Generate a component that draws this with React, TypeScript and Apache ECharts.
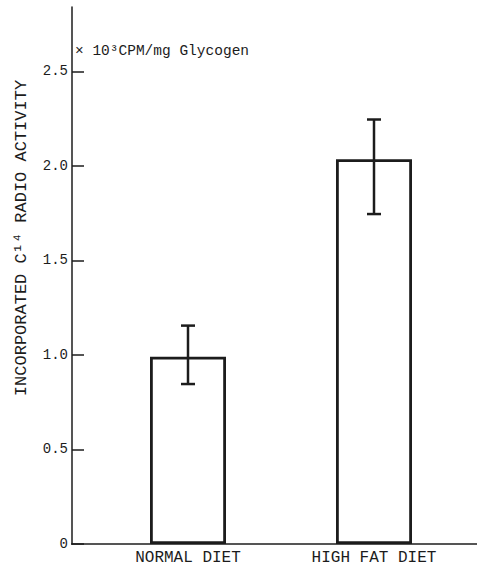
import React, { useEffect, useRef } from "react";
import * as echarts from "echarts";

const categories = ["NORMAL DIET", "HIGH FAT DIET"];
const means = [0.99, 2.035];
const errLow = [0.846, 1.745];
const errHigh = [1.155, 2.245];
const yTicks = [0, 0.5, 1.0, 1.5, 2.0, 2.5];
const yTitle = "INCORPORATED C¹⁴ RADIO ACTIVITY";
const unitText = "× 10³CPM/mg Glycogen";

const FONT = "Liberation Mono";
const INK = "#1c1c1c";

export default function App() {
  const ref = useRef<HTMLDivElement>(null);
  useEffect(() => {
    if (!ref.current) return;
    const chart = echarts.init(ref.current, undefined, { renderer: "svg" });
    const errData = categories.map((_, i) => [i, errLow[i], errHigh[i]]);
    chart.setOption({
      animation: false,
      backgroundColor: "#ffffff",
      grid: { left: 95, right: 10, top: 7, bottom: 23, containLabel: false },
      xAxis: {
        type: "category",
        data: categories,
        axisLine: { show: false },
        axisTick: { show: false },
        axisLabel: {
          color: INK,
          fontFamily: FONT,
          fontSize: 16,
          margin: 6,
        },
      },
      yAxis: {
        type: "value",
        min: 0,
        max: 2.84,
        offset: 23,
        splitLine: { show: false },
        axisLine: { show: true, lineStyle: { color: INK, width: 1.5 } },
        axisTick: {
          show: true,
          inside: true,
          length: 12,
          lineStyle: { color: INK, width: 1.5 },
          customValues: yTicks,
        },
        axisLabel: {
          color: INK,
          fontFamily: FONT,
          fontSize: 14,
          margin: 4,
          customValues: yTicks,
          formatter: (v: number) => (v === 0 ? "0" : v.toFixed(1)),
        },
      },
      graphic: [
        {
          type: "line",
          shape: { x1: 71, y1: 544, x2: 477, y2: 544 },
          style: { stroke: INK, lineWidth: 1.5 },
          z: 10,
        },
        {
          type: "text",
          x: 75,
          y: 51,
          style: {
            text: unitText,
            fontFamily: FONT,
            fontSize: 14.5,
            fill: INK,
            align: "left",
            verticalAlign: "middle",
          },
        },
        {
          type: "text",
          x: 21,
          y: 238,
          rotation: Math.PI / 2,
          style: {
            text: yTitle,
            fontFamily: FONT,
            fontSize: 17,
            fill: INK,
            align: "center",
            verticalAlign: "middle",
          },
        },
      ],
      series: [
        {
          type: "bar",
          data: means,
          barWidth: 76,
          itemStyle: { color: "#ffffff", borderColor: INK, borderWidth: 2.8 },
          z: 2,
        },
        {
          type: "custom",
          data: errData,
          z: 5,
          renderItem: (params: any, api: any) => {
            const x = api.value(0);
            const lo = api.coord([x, api.value(1)]);
            const hi = api.coord([x, api.value(2)]);
            const hw = 7;
            const style = { stroke: INK, lineWidth: 2.5 };
            return {
              type: "group",
              children: [
                { type: "line", shape: { x1: lo[0], y1: lo[1], x2: hi[0], y2: hi[1] }, style },
                { type: "line", shape: { x1: hi[0] - hw, y1: hi[1], x2: hi[0] + hw, y2: hi[1] }, style },
                { type: "line", shape: { x1: lo[0] - hw, y1: lo[1], x2: lo[0] + hw, y2: lo[1] }, style },
              ],
            };
          },
        },
      ],
    });
    return () => chart.dispose();
  }, []);
  return (
    <div
      ref={ref}
      style={{ position: "fixed", left: 0, top: 0, width: 477, height: 567, background: "#fff" }}
    />
  );
}
